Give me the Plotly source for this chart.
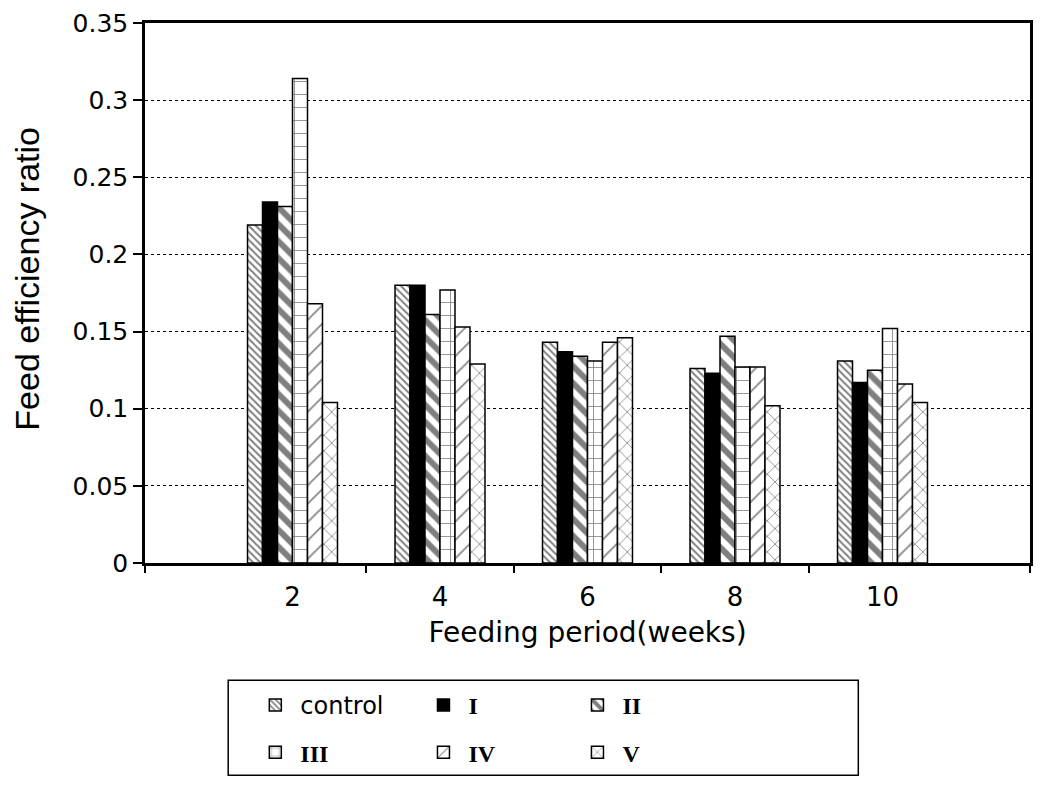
import plotly.graph_objects as go

weeks = [2, 4, 6, 8, 10]
series_names = ["control", "I", "II", "III", "IV", "V"]
control = [0.219, 0.180, 0.143, 0.126, 0.131]
grp_I = [0.234, 0.180, 0.137, 0.123, 0.117]
grp_II = [0.231, 0.161, 0.134, 0.147, 0.125]
grp_III = [0.314, 0.177, 0.131, 0.127, 0.152]
grp_IV = [0.168, 0.153, 0.143, 0.127, 0.116]
grp_V = [0.104, 0.129, 0.146, 0.102, 0.104]
values = [control, grp_I, grp_II, grp_III, grp_IV, grp_V]

x_tick_vals = [2, 4, 6, 8, 10]
x_tick_text = ["2", "4", "6", "8", "10"]
x_divider_ticks = [0, 3, 5, 7, 9, 12]

styles = [
    dict(color="white", pattern=dict(shape="\\", size=5, solidity=0.4, fgcolor="black", bgcolor="white")),
    dict(color="black", pattern=dict(shape="")),
    dict(color="white", pattern=dict(shape="\\", size=12, solidity=0.5, fgcolor="black", bgcolor="white")),
    dict(color="white", pattern=dict(shape="+", size=13, solidity=0.12, fgcolor="black", bgcolor="white")),
    dict(color="white", pattern=dict(shape="/", size=13, solidity=0.12, fgcolor="black", bgcolor="white")),
    dict(color="white", pattern=dict(shape="x", size=11, solidity=0.14, fgcolor="black", bgcolor="white")),
]

serif = "<b><span style='font-family:Liberation Serif'>%s</span></b>"
legend_labels = ["control", serif % "I", serif % "II", serif % "III", serif % "IV", serif % "V"]
legend_refs = ["legend", "legend2", "legend3", "legend", "legend2", "legend3"]

fig = go.Figure()
for name, lab, vals, st, lref in zip(series_names, legend_labels, values, styles, legend_refs):
    fig.add_trace(go.Bar(
        x=weeks, y=vals, name=lab, legend=lref, legendgroup=name,
        marker=dict(color=st["color"], pattern=st["pattern"],
                    line=dict(color="black", width=1.5)),
    ))

# invisible helper trace for the divider tick axis
fig.add_trace(go.Scatter(x=[], y=[], xaxis="x2", showlegend=False, hoverinfo="skip"))

sans_wide = "DejaVu Sans, Verdana, sans-serif"
sans = "Liberation Sans, Arial, sans-serif"

leg_common = dict(
    orientation="v", yanchor="top", y=-0.222, xanchor="left",
    bgcolor="rgba(0,0,0,0)", borderwidth=0,
    font=dict(family=sans_wide, size=24, color="black"),
    itemwidth=40, traceorder="grouped", tracegroupgap=13,
)

fig.update_layout(
    width=1036, height=791,
    paper_bgcolor="white", plot_bgcolor="white",
    margin=dict(l=137, r=14, t=15, b=236, autoexpand=False),
    barmode="group", bargap=0.39, bargroupgap=0,
    font=dict(family=sans_wide, size=25, color="black"),
    xaxis=dict(
        range=[0, 12], tickvals=x_tick_vals, ticktext=x_tick_text,
        ticks="", showgrid=False, zeroline=False, ticklabelstandoff=9,
        showline=True, linecolor="black", linewidth=2.5, mirror=True,
        title=dict(text="Feeding period(weeks)", standoff=12,
                   font=dict(family=sans_wide, size=28)),
        tickfont=dict(family=sans_wide, size=26),
    ),
    xaxis2=dict(
        overlaying="x", anchor="y", side="bottom", range=[0, 12],
        tickvals=x_divider_ticks, showticklabels=False,
        ticks="outside", ticklen=9, tickwidth=1.5, tickcolor="black",
        showgrid=False, zeroline=False, showline=False,
    ),
    yaxis=dict(
        range=[0, 0.35], dtick=0.05, tick0=0,
        ticks="outside", ticklen=9, tickwidth=1.5, tickcolor="black",
        ticklabeloverflow="allow",
        showgrid=True, gridcolor="black", griddash="dot", gridwidth=1,
        zeroline=False, showline=True, linecolor="black", linewidth=2.5, mirror=True,
        title=dict(text="&nbsp;&nbsp;&nbsp;Feed efficiency ratio", standoff=34,
                   font=dict(family=sans, size=34)),
        tickfont=dict(family=sans_wide, size=25),
    ),
    legend=dict(x=0.119, **leg_common),
    legend2=dict(x=0.309, **leg_common),
    legend3=dict(x=0.483, **leg_common),
    shapes=[dict(type="rect", xref="paper", yref="paper",
                 x0=0.094, x1=0.806, y0=-0.393, y1=-0.217,
                 line=dict(color="black", width=1.5), fillcolor="rgba(0,0,0,0)")],
)

fig.write_html("out.html")
